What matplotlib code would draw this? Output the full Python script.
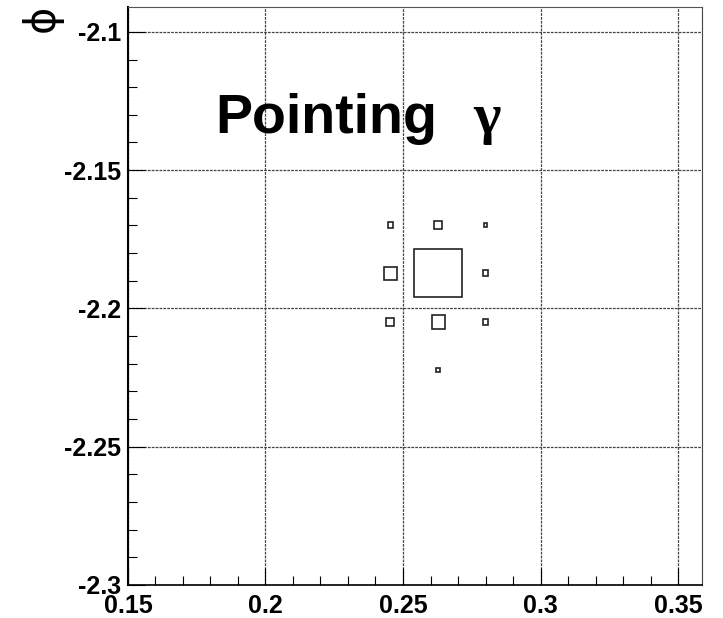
#! /usr/bin/env python3
# ROOT-style box plot of a 2D histogram: "Pointing gamma"

import matplotlib
matplotlib.use('Agg')
import matplotlib.pyplot as plt
from matplotlib.patches import Rectangle
from matplotlib.ticker import MultipleLocator

# bin centres (eta-like on x, phi on y) and cell contents (relative)
x_centres = [0.2454, 0.2454, 0.2454, 0.2628, 0.2628, 0.2628, 0.2628, 0.2800, 0.2800, 0.2800]
y_centres = [-2.1698, -2.1873, -2.2049, -2.1698, -2.1873, -2.2049, -2.2222, -2.1698, -2.1873, -2.2049]
contents = [11.5, 26.0, 17.0, 17.0, 100.0, 28.0, 8.0, 7.4, 12.0, 11.5]
bin_dx = 0.0173
bin_dy = 0.01745

x_ticks = [0.15, 0.2, 0.25, 0.3, 0.35]
y_ticks = [-2.1, -2.15, -2.2, -2.25, -2.3]
x_range = (0.15, 0.3587)
y_range = (-2.3, -2.091)

title_text = "Pointing"
title_greek = "\u03b3"
y_title = "\u03d5"

fig = plt.figure(figsize=(7.23, 6.18), dpi=100)
ax = fig.add_axes([0.1770, 0.0534, 0.7939, 0.9353])

zmax = max(contents)
for xc, yc, z in zip(x_centres, y_centres, contents):
    w = bin_dx * z / zmax
    h = bin_dy * z / zmax
    ax.add_patch(Rectangle((xc - w / 2, yc - h / 2), w, h, fill=False,
                           edgecolor='#222222', lw=1.2, zorder=3))

ax.set_xlim(*x_range)
ax.set_ylim(*y_range)
ax.set_xticks(x_ticks)
ax.set_yticks(y_ticks)
ax.xaxis.set_minor_locator(MultipleLocator(0.01))
ax.yaxis.set_minor_locator(MultipleLocator(0.01))
ax.set_xticklabels(["%g" % v for v in x_ticks])
ax.set_yticklabels(["%g" % v for v in y_ticks])

ax.tick_params(which='major', direction='in', length=12.2, width=0.8,
               top=False, right=False, labelsize=18, pad=6.5)
ax.tick_params(axis='y', which='major', pad=5.0)
ax.tick_params(which='minor', direction='in', length=6.5, width=0.8,
               top=False, right=False)
for lab in ax.get_xticklabels() + ax.get_yticklabels():
    lab.set_fontfamily('Liberation Sans')
    lab.set_fontweight('bold')

ax.grid(True, which='major', color='#444444', lw=0.9, linestyle=(0, (2.2, 0.9)))
ax.set_axisbelow(True)

ax.spines['left'].set_linewidth(1.5)
ax.spines['bottom'].set_linewidth(1.2)
ax.spines['top'].set_color('#555555')
ax.spines['right'].set_color('#444444')

ax.text(0.1816, -2.1365, title_text, fontsize=40, fontweight='bold',
        family='Liberation Sans', va='baseline', ha='left', zorder=5)
ax.text(0.2755, -2.1365, title_greek, fontsize=42, fontweight='bold',
        family='Liberation Serif', va='baseline', ha='left', zorder=5)

fig.text(42 / 723, 1 - 18 / 618, y_title, fontsize=30, rotation=90,
         family='DejaVu Sans', ha='center', va='center')

fig.savefig('out.png', dpi=100)
